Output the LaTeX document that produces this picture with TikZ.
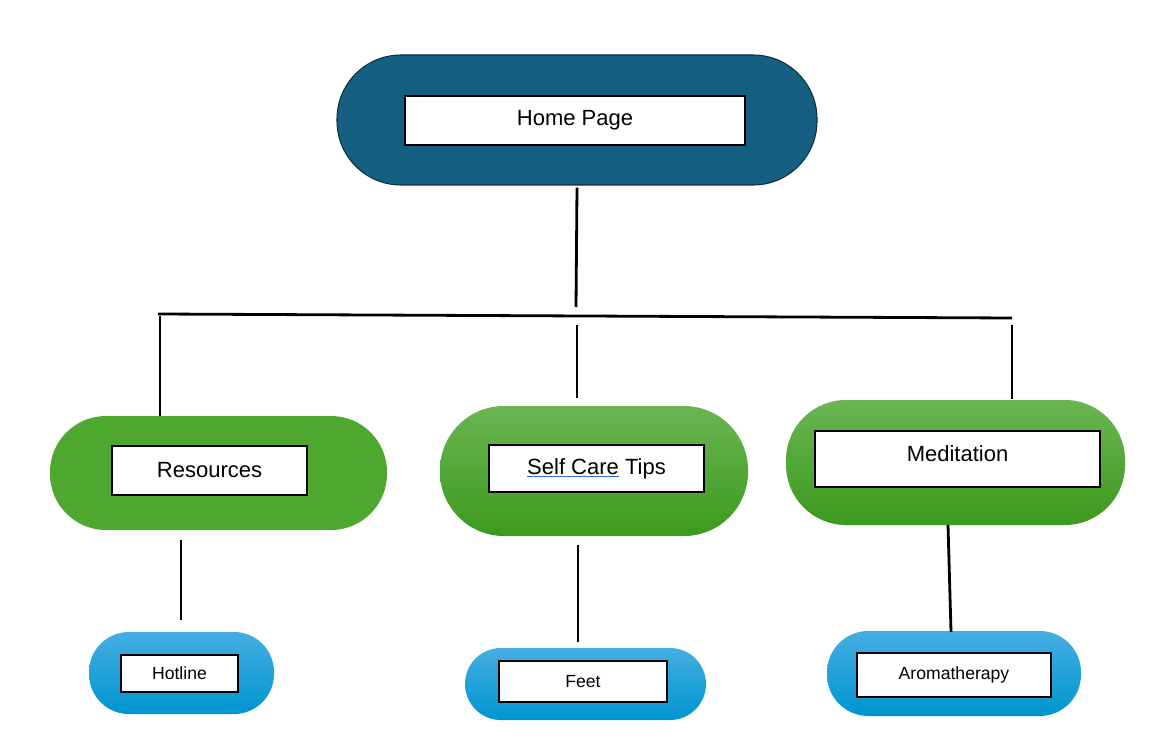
\documentclass[tikz,border=0pt]{standalone}
\usepackage{fontspec}
\setmainfont{Liberation Sans}
\usetikzlibrary{positioning}

\definecolor{homeblue}{HTML}{156082}
\definecolor{homeedge}{HTML}{0B3041}
\definecolor{leafgreen}{HTML}{4EA72E}
\definecolor{greentop}{HTML}{6AB552}
\definecolor{greenbot}{HTML}{3D9A1E}
\definecolor{bluetop}{HTML}{45AEE2}
\definecolor{bluebot}{HTML}{0095CF}
\definecolor{spellblue}{HTML}{2F6FD8}

\begin{document}
\begin{tikzpicture}[
		x=0.75pt, y=-0.75pt,
		pill/.style={
			rounded corners=#1,
			inner sep=0pt
		},
		label box/.style={
			draw,
			fill=white,
			line width=0.8pt,
			inner sep=0pt,
			align=center
		},
		big/.style={font=\fontsize{16.5}{20}\selectfont},
		small/.style={font=\fontsize{13.2}{16}\selectfont},
		link/.style={line width=2.1pt}
		]
		
		\useasboundingbox (0,0) rectangle (1162,748);
		
		% Home page at the top
		\node[pill=48pt, fill=homeblue, draw=homeedge, line width=0.8pt,
			minimum width=360pt, minimum height=97.5pt] (home) at (577,120) {};
		\node[label box, big, minimum width=255pt, minimum height=36.75pt]
			(homebox) at (575,120.5) {Home Page};
		
		% Second level
		\node[pill=42pt, fill=leafgreen,
			minimum width=252.75pt, minimum height=85.5pt] (res) at (218.5,473) {};
		\node[label box, big, minimum width=146.25pt, minimum height=36.75pt]
			(resbox) at (209.5,470.5) {Resources};
		
		\node[pill=48pt, top color=greentop, bottom color=greenbot,
			minimum width=231pt, minimum height=97.5pt] (tips) at (594,471) {};
		\node[label box, big, minimum width=161.25pt, minimum height=35.25pt]
			(tipsbox) at (596.5,468.5)
			{{\color{spellblue}\underline{\textcolor{black}{Self Care}}} Tips};
		
		\node[pill=45pt, top color=greentop, bottom color=greenbot,
			minimum width=254.25pt, minimum height=93.75pt] (med) at (955.5,462.5) {};
		\node[label box, big, minimum width=213.75pt, minimum height=42pt, text depth=7.5pt]
			(medbox) at (957.5,459) {Meditation};
		
		% Third level
		\node[pill=30pt, top color=bluetop, bottom color=bluebot,
			minimum width=138.75pt, minimum height=61.5pt] (hot) at (181.5,673) {};
		\node[label box, small, minimum width=87.75pt, minimum height=27.75pt]
			(hotbox) at (179.5,673.5) {Hotline};
		
		\node[pill=27pt, top color=bluetop, bottom color=bluebot,
			minimum width=180.75pt, minimum height=54pt] (feet) at (585.5,684) {};
		\node[label box, small, minimum width=126pt, minimum height=30.75pt]
			(feetbox) at (583,681.5) {Feet};
		
		\node[pill=31pt, top color=bluetop, bottom color=bluebot,
			minimum width=190.5pt, minimum height=63.75pt] (aroma) at (954,673.5) {};
		\node[label box, small, minimum width=145.5pt, minimum height=33pt, text depth=3pt]
			(aromabox) at (954,675) {Aromatherapy};
		
		% Loose ends of the tree lines
		\coordinate (stem) at (576,307);
		\coordinate (barL) at (158,314);
		\coordinate (barR) at (1012,318);
		\coordinate (dropL) at (160,316);
		\coordinate (dropM) at (577,325);
		\coordinate (endM) at (577,398);
		\coordinate (dropR) at (1012,325);
		\coordinate (endR) at (1012,399);
		\coordinate (resA) at (181,540);
		\coordinate (resB) at (181,620);
		\coordinate (tipsA) at (578,545);
		\coordinate (tipsB) at (578,642);
		\coordinate (medA) at (948,525);
		\coordinate (medB) at (951,632);
		
		% Tree lines
		\draw[link] ([yshift=-1.5pt]home.south) -- (stem);
		\draw[link] (barL) -- (barR);
		\draw[link] (dropL) -- (dropL |- res.north);
		\draw[link] (dropM) -- (endM);
		\draw[link] (dropR) -- (endR);
		\draw[link] (resA) -- (resB);
		\draw[link] (tipsA) -- (tipsB);
		\draw[link] (medA) -- (medB);
		
		\end{tikzpicture}
\end{document}
